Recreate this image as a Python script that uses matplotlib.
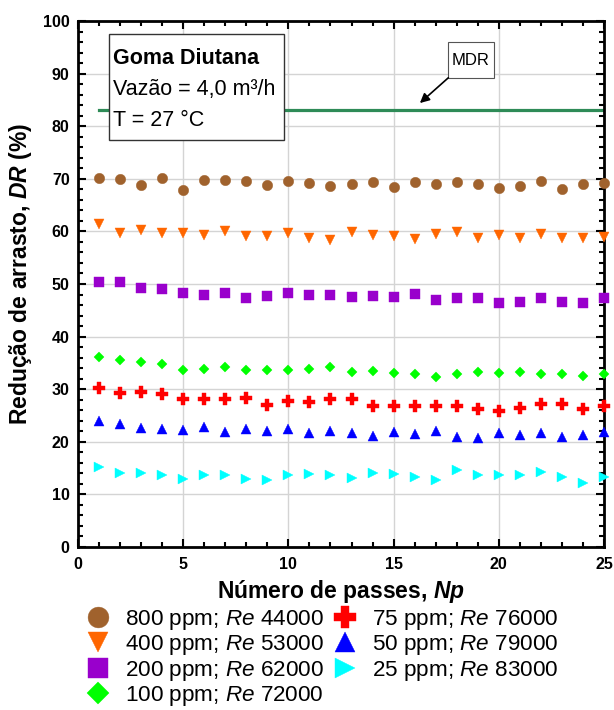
import matplotlib
matplotlib.use("Agg")
import matplotlib.pyplot as plt
from matplotlib.patches import Rectangle
from matplotlib.ticker import MultipleLocator

plt.rcParams['font.family'] = ['Liberation Sans', 'DejaVu Sans']
plt.rcParams['mathtext.fontset'] = 'custom'
plt.rcParams['mathtext.rm'] = 'Liberation Sans'
plt.rcParams['mathtext.it'] = 'Liberation Sans:italic'
plt.rcParams['mathtext.bf'] = 'Liberation Sans:bold'
plt.rcParams['mathtext.bfit'] = 'Liberation Sans:italic:bold'

passes = list(range(1, 26))
dr_800 = [70.1, 70.0, 68.9, 70.1, 67.8, 69.8, 69.8, 69.6, 68.9, 69.5, 69.2, 68.6, 69.0,
          69.4, 68.5, 69.3, 69.0, 69.4, 69.0, 68.3, 68.6, 69.6, 68.0, 69.0, 69.2]
dr_400 = [61.4, 59.7, 60.2, 59.7, 59.7, 59.3, 60.0, 59.2, 59.2, 59.7, 58.8, 58.4, 59.8,
          59.3, 59.2, 58.6, 59.5, 59.9, 58.8, 59.3, 58.8, 59.6, 58.8, 58.8, 59.0]
dr_200 = [50.4, 50.3, 49.3, 49.0, 48.3, 48.0, 48.2, 47.4, 47.7, 48.2, 48.0, 48.0, 47.5,
          47.7, 47.5, 48.1, 46.9, 47.3, 47.3, 46.3, 46.6, 47.3, 46.6, 46.3, 47.3]
dr_100 = [36.1, 35.6, 35.2, 34.7, 33.6, 33.8, 34.2, 33.7, 33.7, 33.7, 33.8, 34.3, 33.3,
          33.4, 33.1, 32.9, 32.4, 32.9, 33.3, 33.1, 33.3, 32.8, 32.9, 32.6, 32.8]
dr_75 = [30.2, 29.3, 29.4, 29.1, 28.1, 28.2, 28.2, 28.4, 27.0, 27.8, 27.6, 28.1, 28.2,
         26.8, 26.9, 26.9, 26.9, 26.9, 26.2, 25.9, 26.5, 27.2, 27.2, 26.3, 26.9]
dr_50 = [23.9, 23.4, 22.6, 22.4, 22.2, 22.9, 21.9, 22.4, 22.0, 22.4, 21.7, 22.0, 21.6,
         21.1, 21.8, 21.5, 22.0, 21.0, 20.7, 21.6, 21.3, 21.6, 21.0, 21.3, 21.8]
dr_25 = [15.2, 14.1, 14.0, 13.6, 12.9, 13.7, 13.6, 13.0, 12.8, 13.7, 13.9, 13.6, 13.1,
         14.1, 13.8, 13.3, 12.8, 14.6, 13.6, 13.7, 13.6, 14.2, 13.3, 12.2, 13.4]

mdr_value = 83.0
mdr_x = [1, 25]

series = [
    ('800 ppm; $\\mathit{Re}$ 44000', dr_800, 'o', '#a0622d', 7.5),
    ('400 ppm; $\\mathit{Re}$ 53000', dr_400, 'v', '#ff6600', 7.5),
    ('200 ppm; $\\mathit{Re}$ 62000', dr_200, 's', '#9900cc', 7.0),
    ('100 ppm; $\\mathit{Re}$ 72000', dr_100, 'D', '#00ff00', 5.5),
    ('75 ppm; $\\mathit{Re}$ 76000', dr_75, 'P', '#ff0000', 8.0),
    ('50 ppm; $\\mathit{Re}$ 79000', dr_50, '^', '#0000ff', 7.5),
    ('25 ppm; $\\mathit{Re}$ 83000', dr_25, '>', '#00ffff', 7.5),
]

fig = plt.figure(figsize=(6.14, 7.10), dpi=100)
ax = fig.add_axes([78/614, 1-547/710, 526/614, 526/710])

ax.set_xlim(0, 25)
ax.set_ylim(0, 100)
ax.grid(True, which='major', color='#d4d4d4', lw=1.0, zorder=0)
ax.set_axisbelow(True)

ax.plot(mdr_x, [mdr_value, mdr_value], color='#2e8b57', lw=2.3, zorder=2)

handles = []
for lab, vals, mk, col, ms in series:
    h, = ax.plot(passes, vals, ls='none', marker=mk, color=col, ms=ms,
                 mec=col, mew=0.3, label=lab, clip_on=False, zorder=3)
    handles.append(h)

# info box
ax.add_patch(Rectangle((1.45, 77.3), 8.36, 20.3, facecolor='white',
                       edgecolor='#333333', lw=1.0, zorder=4))
ax.text(1.66, 91.9, 'Goma Diutana', fontsize=15.5, fontweight='bold',
        va='baseline', ha='left', zorder=5)
ax.text(1.66, 86.0, 'Vazão = 4,0 m³/h', fontsize=15.5,
        va='baseline', ha='left', zorder=5)
ax.text(1.66, 80.0, 'T = 27 °C', fontsize=15.5,
        va='baseline', ha='left', zorder=5)

# MDR callout
ax.add_patch(Rectangle((17.6, 89.2), 2.15, 6.8, facecolor='white',
                       edgecolor='#555555', lw=0.8, zorder=4))
ax.text(18.675, 92.5, 'MDR', fontsize=12, ha='center', va='center', zorder=5)
ax.annotate('', xy=(16.25, 84.4), xytext=(17.6, 89.2), zorder=5,
            arrowprops=dict(arrowstyle='-|>', color='black', lw=1.2,
                            mutation_scale=14, shrinkA=0, shrinkB=0))

ax.xaxis.set_major_locator(MultipleLocator(5))
ax.xaxis.set_minor_locator(MultipleLocator(1))
ax.yaxis.set_major_locator(MultipleLocator(10))
ax.yaxis.set_minor_locator(MultipleLocator(2))
ax.tick_params(which='both', direction='in', top=True, right=True, width=1.5,
               colors='black')
ax.tick_params(which='major', length=6)
ax.tick_params(which='minor', length=3.6)
ax.tick_params(axis='x', which='major', pad=7, labelsize=11.5)
ax.tick_params(axis='y', which='major', pad=6, labelsize=11.5)
for t in ax.get_xticklabels() + ax.get_yticklabels():
    t.set_fontweight('bold')
for sp in ax.spines.values():
    sp.set_linewidth(2.0)

ax.set_xlabel('Número de passes, $\\mathbfit{Np}$', fontsize=16.5, fontweight='bold')
ax.set_ylabel('Redução de arrasto, $\\mathbfit{DR}$ (%)', fontsize=16.5, fontweight='bold')
ax.xaxis.set_label_coords(0.5, -0.058)
ax.yaxis.set_label_coords(-0.083, 0.519)

fig.legend(handles=handles, loc='upper left', bbox_to_anchor=(87/614, 1-608/710),
           ncol=2, frameon=False, fontsize=16.2, markerscale=2.0,
           handlelength=1.0, handletextpad=0.7, columnspacing=0.45,
           labelspacing=0.06, borderpad=0, borderaxespad=0)

fig.savefig('out.png', dpi=100)
